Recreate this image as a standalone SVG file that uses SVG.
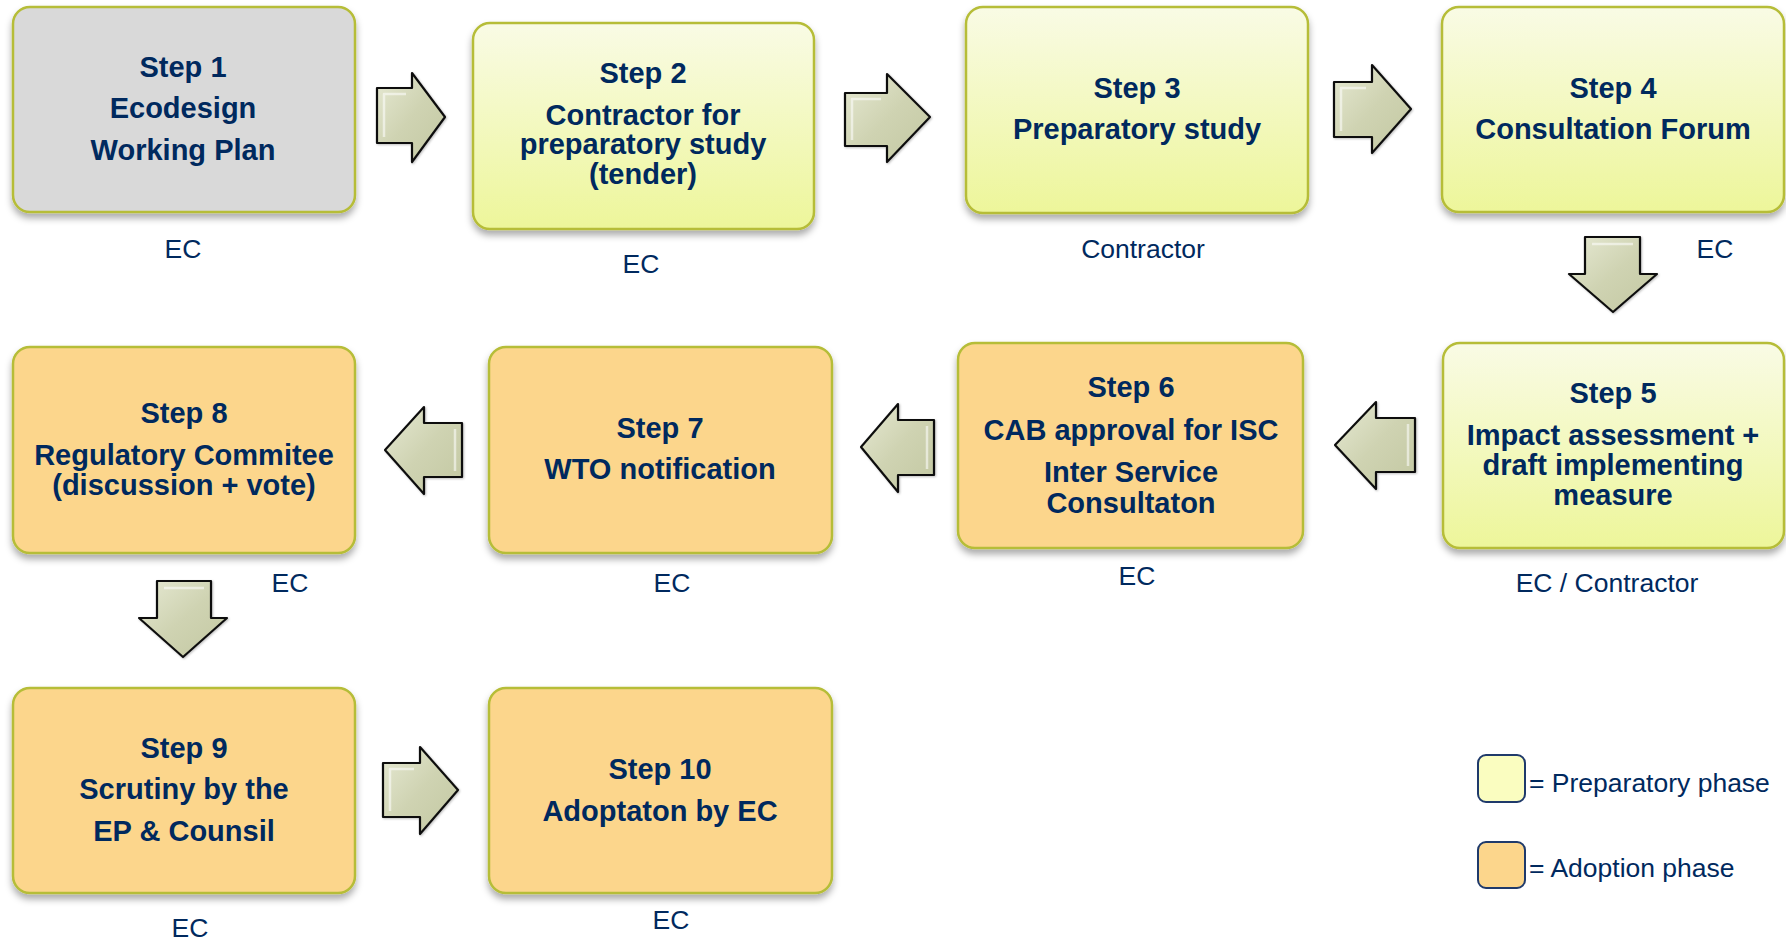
<svg xmlns="http://www.w3.org/2000/svg" width="1786" height="941" viewBox="0 0 1786 941">
<defs>
<linearGradient id="gYel" x1="0" y1="0" x2="0" y2="1">
<stop offset="0" stop-color="#F9FBE5"/>
<stop offset="1" stop-color="#EDF69A"/>
</linearGradient>
<linearGradient id="gArr" x1="0" y1="0" x2="1" y2="1">
<stop offset="0" stop-color="#E6E9D3"/>
<stop offset="0.5" stop-color="#CFD3B2"/>
<stop offset="1" stop-color="#C3C8A2"/>
</linearGradient>
<filter id="sh" x="-10%" y="-10%" width="120%" height="130%">
<feDropShadow dx="0" dy="5" stdDeviation="3.5" flood-color="#000" flood-opacity="0.33"/>
</filter>
<filter id="ash" x="-20%" y="-20%" width="140%" height="140%">
<feDropShadow dx="1" dy="1" stdDeviation="1" flood-color="#000" flood-opacity="0.25"/>
</filter>
</defs>
<style>
.box{stroke:#B6BD38;stroke-width:2.5;filter:url(#sh)}
.gray{fill:#D9D9D9}
.yel{fill:url(#gYel)}
.org{fill:#FCD68C}
.t{font-family:"Liberation Sans",Arial,sans-serif;font-weight:bold;font-size:29px;fill:#00295E;text-anchor:middle}
.l{font-family:"Liberation Sans",Arial,sans-serif;font-size:26.5px;fill:#00295E;text-anchor:middle}
.lg{font-family:"Liberation Sans",Arial,sans-serif;font-size:26.5px;fill:#00295E}
.arr{fill:url(#gArr);stroke:#111;stroke-width:2.2;stroke-linejoin:round;filter:url(#ash)}
.hl{fill:none;stroke:#FFFFFF;stroke-opacity:0.55;stroke-width:2.5;stroke-linejoin:round}
.leg{stroke:#1F3A6B;stroke-width:2}
</style>
<rect width="1786" height="941" fill="#FFFFFF"/>

<g id="connectors">
<polygon class="arr" points="377,88 412,88 412,73 445,117 412,162 412,143 377,143"/>
<polyline class="hl" points="384,137 384,94 406,94"/>
<polygon class="arr" points="845,93 887,93 887,74 930,117 887,162 887,146 845,146"/>
<polyline class="hl" points="852,140 852,99 881,99"/>
<polygon class="arr" points="1334,82 1372,82 1372,65 1411,109 1372,153 1372,137 1334,137"/>
<polyline class="hl" points="1341,131 1341,88 1366,88"/>
<polygon class="arr" points="1585,237 1640,237 1640,274 1657,274 1613,312 1569,274 1585,274"/>
<polyline class="hl" points="1592,244 1633,244"/>
<polygon class="arr" points="1415,418 1376,418 1376,402 1335,445 1376,489 1376,472 1415,472"/>
<polyline class="hl" points="1408,466 1408,424"/>
<polygon class="arr" points="934,420 898,420 898,404 861,447 898,492 898,475 934,475"/>
<polyline class="hl" points="927,469 927,426"/>
<polygon class="arr" points="462,423 424,423 424,407 385,450 424,494 424,477 462,477"/>
<polyline class="hl" points="455,471 455,429"/>
<polygon class="arr" points="157,581 211,581 211,618 227,618 183,657 139,618 157,618"/>
<polyline class="hl" points="164,588 204,588"/>
<polygon class="arr" points="383,763 420,763 420,747 458,790 420,834 420,817 383,817"/>
<polyline class="hl" points="390,811 390,769 414,769"/>
</g>

<g id="step1">
<rect class="box gray" x="13" y="7" width="342" height="205" rx="17"/>
<text class="t" x="183" y="77">Step 1</text>
<text class="t" x="183" y="118">Ecodesign</text>
<text class="t" x="183" y="160">Working Plan</text>
<text class="l" x="183" y="258">EC</text>
</g>

<g id="step2">
<rect class="box yel" x="473" y="23" width="341" height="206" rx="17"/>
<text class="t" x="643" y="83">Step 2</text>
<text class="t" x="643" y="125">Contractor for</text>
<text class="t" x="643" y="154">preparatory study</text>
<text class="t" x="643" y="184">(tender)</text>
<text class="l" x="641" y="273">EC</text>
</g>

<g id="step3">
<rect class="box yel" x="966" y="7" width="342" height="206" rx="17"/>
<text class="t" x="1137" y="98">Step 3</text>
<text class="t" x="1137" y="139">Preparatory study</text>
<text class="l" x="1143" y="258">Contractor</text>
</g>

<g id="step4">
<rect class="box yel" x="1442" y="7" width="342" height="205" rx="17"/>
<text class="t" x="1613" y="98">Step 4</text>
<text class="t" x="1613" y="139">Consultation Forum</text>
<text class="l" x="1715" y="258">EC</text>
</g>

<g id="step5">
<rect class="box yel" x="1443" y="343" width="341" height="205" rx="17"/>
<text class="t" x="1613" y="403">Step 5</text>
<text class="t" x="1613" y="445">Impact assessment +</text>
<text class="t" x="1613" y="475">draft implementing</text>
<text class="t" x="1613" y="505">measure</text>
<text class="l" x="1607" y="592">EC / Contractor</text>
</g>

<g id="step6">
<rect class="box org" x="958" y="343" width="345" height="205" rx="17"/>
<text class="t" x="1131" y="397">Step 6</text>
<text class="t" x="1131" y="440">CAB approval for ISC</text>
<text class="t" x="1131" y="482">Inter Service</text>
<text class="t" x="1131" y="513">Consultaton</text>
<text class="l" x="1137" y="585">EC</text>
</g>

<g id="step7">
<rect class="box org" x="489" y="347" width="343" height="206" rx="17"/>
<text class="t" x="660" y="438">Step 7</text>
<text class="t" x="660" y="479">WTO notification</text>
<text class="l" x="672" y="592">EC</text>
</g>

<g id="step8">
<rect class="box org" x="13" y="347" width="342" height="206" rx="17"/>
<text class="t" x="184" y="423">Step 8</text>
<text class="t" x="184" y="465">Regulatory Commitee</text>
<text class="t" x="184" y="495">(discussion + vote)</text>
<text class="l" x="290" y="592">EC</text>
</g>

<g id="step9">
<rect class="box org" x="13" y="688" width="342" height="205" rx="17"/>
<text class="t" x="184" y="758">Step 9</text>
<text class="t" x="184" y="799">Scrutiny by the</text>
<text class="t" x="184" y="841">EP &amp; Counsil</text>
<text class="l" x="190" y="937">EC</text>
</g>

<g id="step10">
<rect class="box org" x="489" y="688" width="343" height="205" rx="17"/>
<text class="t" x="660" y="779">Step 10</text>
<text class="t" x="660" y="821">Adoptaton by EC</text>
<text class="l" x="671" y="929">EC</text>
</g>

<g id="legend">
<rect class="leg" x="1478" y="755" width="47" height="47" rx="8" fill="#FAFDC0"/>
<text class="lg" x="1529" y="792">= Preparatory phase</text>
<rect class="leg" x="1478" y="842" width="47" height="46" rx="8" fill="#FCD68C"/>
<text class="lg" x="1529" y="877">= Adoption phase</text>
</g>
</svg>
